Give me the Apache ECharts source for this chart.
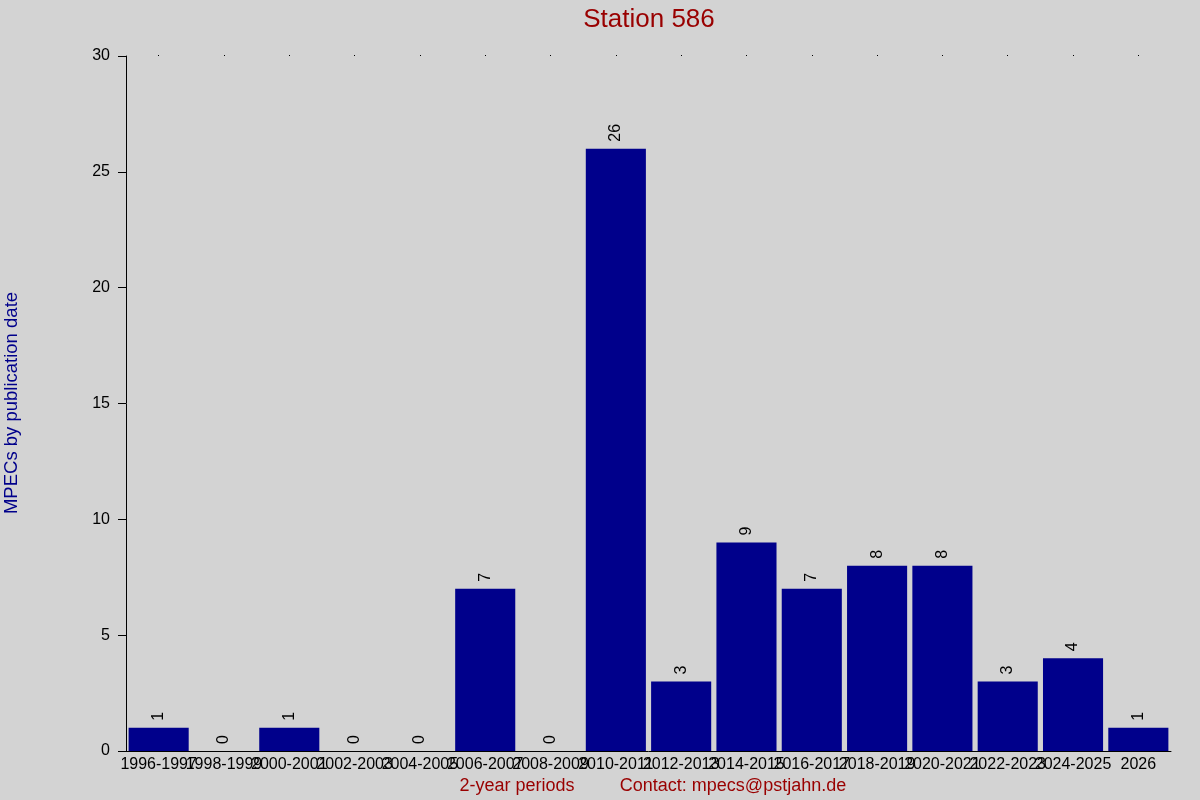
<!DOCTYPE html>
<html><head><meta charset="utf-8">
<script src="https://cdn.jsdelivr.net/npm/echarts@6/dist/echarts.min.js"></script>
<style>html,body{margin:0;padding:0;background:#d3d3d3}#c{width:1200px;height:800px}</style>
</head><body><div id="c"></div>
<script>
const categories = ['1996-1997','1998-1999','2000-2001','2002-2003','2004-2005','2006-2007','2008-2009','2010-2011','2012-2013','2014-2015','2016-2017','2018-2019','2020-2021','2022-2023','2024-2025','2026'];
const values = [1,0,1,0,0,7,0,26,3,9,7,8,8,3,4,1];
const yTicks = {min:0, max:30, interval:5};
const titleText = 'Station 586';
const yName = 'MPECs by publication date';
const xName = '2-year periods';
const contact = 'Contact: mpecs@pstjahn.de';

const font = 'Liberation Sans, Arial, sans-serif';
const chart = echarts.init(document.getElementById('c'));
chart.setOption({
  backgroundColor:'#d3d3d3',
  animation:false,
  graphic:[
    {type:'text',x:649,y:20,style:{text:titleText,fill:'#990000',font:'26px '+font,textAlign:'center',textVerticalAlign:'middle'}},
    {type:'text',x:12,y:403,rotation:Math.PI/2,style:{text:yName,fill:'#00008b',font:'18.5px '+font,textAlign:'center',textVerticalAlign:'middle'}},
    {type:'text',x:517,y:786,style:{text:xName,fill:'#990000',font:'18px '+font,textAlign:'center',textVerticalAlign:'middle'}},
    {type:'text',x:733,y:786,style:{text:contact,fill:'#990000',font:'18px '+font,textAlign:'center',textVerticalAlign:'middle'}}
  ],
  grid:{left:126,right:29,top:56,bottom:49,containLabel:false},
  xAxis:[{
    type:'category',data:categories,
    axisLine:{show:true,lineStyle:{color:'#000',width:1}},
    axisTick:{show:false},
    axisLabel:{color:'#000',fontSize:16,fontFamily:font,interval:0,margin:6,hideOverlap:false}
  },{
    type:'category',data:categories,position:'top',
    axisLine:{show:false},
    axisTick:{show:true,interval:0,length:1,alignWithLabel:true,lineStyle:{color:'#000',width:1}},
    axisLabel:{show:false,interval:0}
  }],
  yAxis:{
    type:'value',min:yTicks.min,max:yTicks.max,interval:yTicks.interval,
    axisLine:{show:true,lineStyle:{color:'#000',width:1}},
    axisTick:{show:true,length:8,lineStyle:{color:'#000'}},
    splitLine:{show:false},
    axisLabel:{color:'#000',fontSize:16,fontFamily:font,margin:16}
  },
  series:[{
    type:'bar',data:values,xAxisIndex:0,barCategoryGap:'8%',
    itemStyle:{color:'#00008b'},
    label:{show:true,position:'top',rotate:90,align:'left',verticalAlign:'middle',distance:7,color:'#000',fontSize:16,fontFamily:font}
  }]
});
</script></body></html>
